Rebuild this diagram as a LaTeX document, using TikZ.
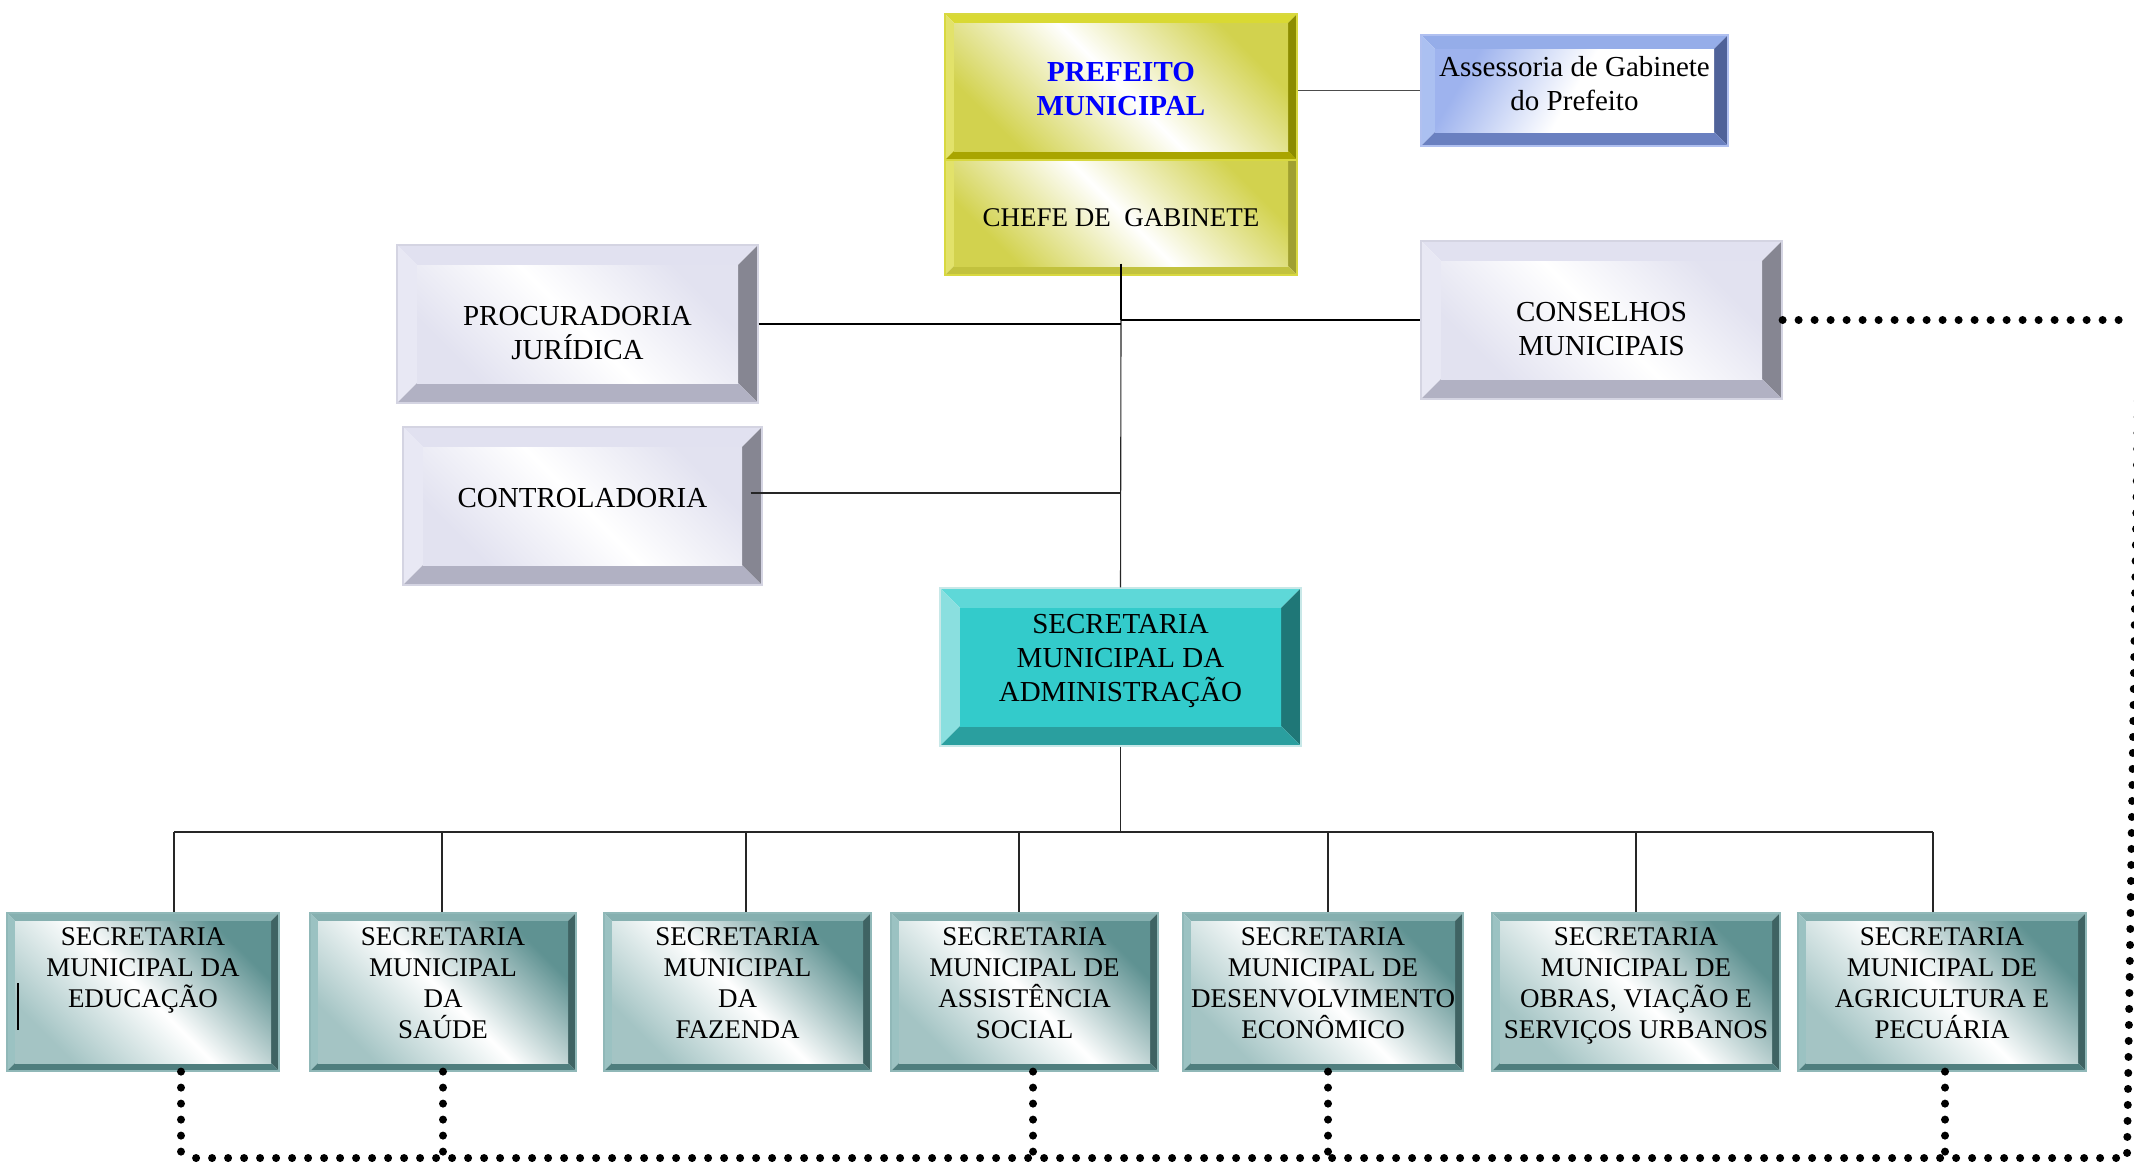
\documentclass[tikz,border=0pt]{standalone}
\usepackage{fontspec}
\setmainfont{Liberation Serif}
\definecolor{gT}{HTML}{E1E1F0}
\definecolor{gL}{HTML}{E8E8F4}
\definecolor{gR}{HTML}{868692}
\definecolor{gB}{HTML}{B1B1C3}
\definecolor{gF}{HTML}{E2E2F0}
\definecolor{gO}{HTML}{D4D4E2}
\definecolor{yT}{HTML}{D9D933}
\definecolor{yL}{HTML}{E2E26A}
\definecolor{yR}{HTML}{8C8C00}
\definecolor{yB}{HTML}{A9A500}
\definecolor{yF}{HTML}{D2D24E}
\definecolor{yO}{HTML}{D8D840}
\definecolor{cR}{HTML}{A0A030}
\definecolor{cB}{HTML}{C2C23E}
\definecolor{aT}{HTML}{95ADE9}
\definecolor{aL}{HTML}{ABC0F1}
\definecolor{aR}{HTML}{4F6299}
\definecolor{aB}{HTML}{6A80C0}
\definecolor{aF}{HTML}{9EB3EE}
\definecolor{aO}{HTML}{B0C0F0}
\definecolor{tT}{HTML}{5ED8D8}
\definecolor{tL}{HTML}{8ADFDF}
\definecolor{tR}{HTML}{1F7777}
\definecolor{tB}{HTML}{2A9F9F}
\definecolor{tF}{HTML}{33CBCB}
\definecolor{tO}{HTML}{C8E8E8}
\definecolor{sT}{HTML}{86B0B0}
\definecolor{sL}{HTML}{9BC2C2}
\definecolor{sR}{HTML}{3F6363}
\definecolor{sB}{HTML}{4F7E7E}
\definecolor{sF}{HTML}{5F9292}
\definecolor{sF2}{HTML}{A4C4C4}
\definecolor{sO}{HTML}{90B8B8}
\begin{document}
\begin{tikzpicture}[x=0.5pt,y=-0.5pt,
  bevw/.code={\def\bevw{#1}},
  bevc/.code args={#1/#2/#3/#4}{\def\bevT{#1}\def\bevL{#2}\def\bevR{#3}\def\bevB{#4}},
  facec/.code args={#1/#2/#3/#4}{\def\fT{#1}\def\fM{#2}\def\fB{#3}\def\fAng{#4}},
  box/.style 2 args={minimum width=#1*0.5pt, minimum height=#2*0.5pt},
  bev/.style={rectangle, inner sep=0pt, line width=0.6pt,
    path picture={
      \coordinate (ppA) at (path picture bounding box.south west);
      \coordinate (ppC) at (path picture bounding box.north east);
      \coordinate (ppB) at (ppA -| ppC);
      \coordinate (ppD) at (ppA |- ppC);
      \coordinate (qA) at ([shift={(\bevw,\bevw)}]ppA);
      \coordinate (qC) at ([shift={(-\bevw,-\bevw)}]ppC);
      \coordinate (qB) at (qA -| qC);
      \coordinate (qD) at (qA |- qC);
      \fill[\bevT] (ppD) -- (ppC) -- (qC) -- (qD) -- cycle;
      \fill[\bevL] (ppA) -- (ppD) -- (qD) -- (qA) -- cycle;
      \fill[\bevR] (ppB) -- (ppC) -- (qC) -- (qB) -- cycle;
      \fill[\bevB] (ppA) -- (ppB) -- (qB) -- (qA) -- cycle;
      \shade[top color=\fT, bottom color=\fB, middle color=\fM, shading angle=\fAng] (qA) rectangle (qC);
    }},
  gbox/.style={bev, bevw=10pt, bevc=gT/gL/gR/gB, facec=gF/white/gF/-45, draw=gO},
  ybox/.style={bev, bevw=4.5pt, bevc=yT/yL/yR/yB, facec=yF/white/yF/-45, draw=yO},
  ybox2/.style={bev, bevw=4.5pt, bevc=yT/yL/cR/cB, facec=yF/white/yF/-45, draw=yO},
  abox/.style={bev, bevw=7pt, bevc=aT/aL/aR/aB, facec=aF/white/white/60, draw=aO},
  tbox/.style={bev, bevw=10pt, bevc=tT/tL/tR/tB, facec=tF/tF/tF/0, draw=tO},
  sbox/.style={bev, bevw=4pt, bevc=sT/sL/sR/sB, facec=sF/white/sF2/-45, draw=sO},
  tm/.style={inner sep=0pt, align=center, font=\fontsize{14.5}{17}\selectfont},
  tc/.style={inner sep=0pt, align=center, font=\fontsize{13.5}{15.5}\selectfont},
  tb/.style={inner sep=0pt, align=center, anchor=north, font=\fontsize{13.5}{15.5}\selectfont},
  ln/.style={line width=0.55pt, draw=black!85},
  dots/.style={line width=4pt, dash pattern=on 0pt off 8pt, line cap=round}
]
\useasboundingbox[fill=white] (0,0) rectangle (2134,1163);

% ---- boxes ----
\node[ybox2, box={352}{125}] (chefe) at (1121,212.5) {};
\node[ybox, box={352}{146}] (pref) at (1121,87) {};
\node[abox, box={307}{111}] (asse) at (1574.5,90.5) {};
\node[gbox, box={361}{158}] (proc) at (577.5,324) {};
\node[gbox, box={359}{158}] (ctrl) at (582.5,506) {};
\node[gbox, box={361}{158}] (cons) at (1601.5,320) {};
\node[tbox, box={361}{158}] (admin) at (1120.5,667) {};
\node[sbox, box={272}{158}] (edu) at (143,992) {};
\node[sbox, box={266}{158}] (sau) at (443,992) {};
\node[sbox, box={267}{158}] (faz) at (737.5,992) {};
\node[sbox, box={267}{158}] (ass) at (1024.5,992) {};
\node[sbox, box={280}{158}] (des) at (1323,992) {};
\node[sbox, box={288}{158}] (obr) at (1636,992) {};
\node[sbox, box={288}{158}] (agr) at (1942,992) {};

% ---- texts ----
\node[tm, font=\fontsize{14.5}{17}\selectfont\bfseries, text=blue] (pref-t) at (1121,89) {PREFEITO\\MUNICIPAL};
\node[tc] (chefe-t) at (1121,218) {CHEFE DE\ \ GABINETE};
\node[tm] (asse-t) at (1574.5,84) {Assessoria de Gabinete\\do Prefeito};
\node[tm] (proc-t) at (577.5,333) {PROCURADORIA\\JURÍDICA};
\node[tm] (ctrl-t) at (582.5,498) {CONTROLADORIA};
\node[tm] (cons-t) at (1601.5,329) {CONSELHOS\\MUNICIPAIS};
\node[tm] (admin-t) at (1120.5,661) {SECRETARIA\\MUNICIPAL DA\\ADMINISTRAÇÃO};
\node[tb] (edu-t) at (143,927) {SECRETARIA\\MUNICIPAL DA\\EDUCAÇÃO};
\node[tb] (sau-t) at (443,927) {SECRETARIA\\MUNICIPAL\\DA\\SAÚDE};
\node[tb] (faz-t) at (737.5,927) {SECRETARIA\\MUNICIPAL\\DA\\FAZENDA};
\node[tb] (ass-t) at (1024.5,927) {SECRETARIA\\MUNICIPAL DE\\ASSISTÊNCIA\\SOCIAL};
\node[tb] (des-t) at (1323,927) {SECRETARIA\\MUNICIPAL DE\\DESENVOLVIMENTO\\ECONÔMICO};
\node[tb] (obr-t) at (1636,927) {SECRETARIA\\MUNICIPAL DE\\OBRAS, VIAÇÃO E\\SERVIÇOS URBANOS};
\node[tb] (agr-t) at (1942,927) {SECRETARIA\\MUNICIPAL DE\\AGRICULTURA E\\PECUÁRIA};

% small mark inside Educação box
\coordinate (m1) at (18,983);
\coordinate (m2) at (18,1030);
\draw[line width=1pt] (m1) -- (m2);

% ---- solid connectors ----
\coordinate (j1) at (chefe.south |- cons.west);
\draw[ln, draw=black!70] (asse.west -| pref.east) -- (asse.west);
\draw[ln] (j1) -- (admin.north);
\draw[line width=1.2pt] ([yshift=6pt]chefe.south) -- (j1);
\draw[line width=0.9pt] (j1) -- (cons.west);
\draw[line width=0.9pt] (proc.east) -- (proc.east -| j1);
\coordinate (c1) at ([shift={(-6pt,6.5pt)}]ctrl.east);
\draw[ln] (c1) -- (c1 -| j1);

\coordinate (eduT) at ([xshift=15.5pt]edu.north);
\coordinate (sauT) at ([xshift=-0.5pt]sau.north);
\coordinate (fazT) at ([xshift=4.25pt]faz.north);
\coordinate (assT) at ([xshift=-2.75pt]ass.north);
\coordinate (desT) at ([xshift=2.5pt]des.north);
\coordinate (obrT) at (obr.north);
\coordinate (agrT) at ([xshift=-4.5pt]agr.north);
\coordinate (busL) at (174,832);
\coordinate (busR) at (agrT |- busL);
\draw[ln] (admin.south) -- (admin.south |- busL);
\draw[ln] (busL) -- (busR);
\foreach \t in {eduT,sauT,fazT,assT,desT,obrT,agrT}
  \draw[ln] (\t |- busL) -- (\t);

% ---- dotted connectors ----
\coordinate (tr1) at (2124,320);
\coordinate (tr2) at (2139,321);
\coordinate (br) at (2127,1158);
\coordinate (bl) at (181,1158);
\draw[dots] (cons.east) -- (tr1);
\draw[dots] (tr2) -- (br) -- (bl);
\coordinate (eduD) at ([xshift=19pt]edu.south);
\coordinate (sauD) at (sau.south);
\coordinate (assD) at ([xshift=4.25pt]ass.south);
\coordinate (desD) at ([xshift=2.5pt]des.south);
\coordinate (agrD) at ([xshift=1.5pt]agr.south);
\foreach \d in {eduD,sauD,assD,desD,agrD}
  \draw[dots] (\d) -- (\d |- bl);
\end{tikzpicture}
\end{document}
